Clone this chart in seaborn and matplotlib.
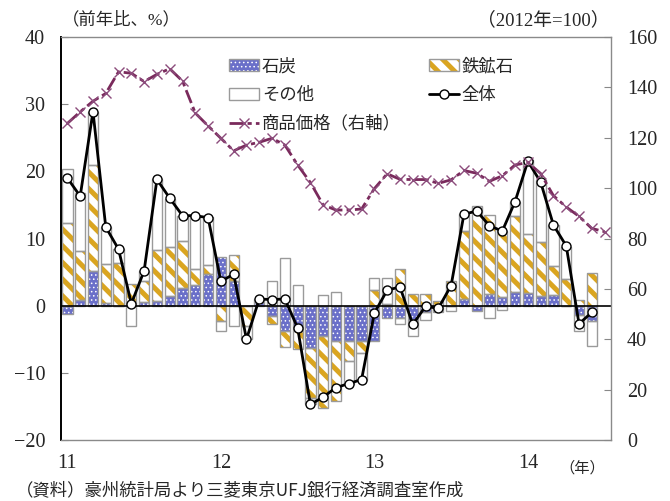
import numpy as np
import pandas as pd
import matplotlib
matplotlib.use("Agg")
import matplotlib.pyplot as plt
from matplotlib.patches import Patch
from matplotlib.lines import Line2D
from matplotlib.legend_handler import HandlerTuple
import seaborn as sns

# Monthly data, Jan 2011 - Jun 2014 (contributions, % y/y)
year_labels = ["11", "12", "13", "14"]
year_ticks = [0, 12, 24, 36]

coal = [-1.3, 0.8, 5.2, 0.4, 0.0, -0.1, 0.55, 0.7, 1.5, 2.6, 3.1, 4.7,
        7.3, 3.6, 0.0, 0.6, -1.6, -3.8, -3.8, -6.3, -4.5, -5.3, -5.3, -5.3,
        -5.3, -1.9, -1.8, -2.2, -1.0, 0.0, 0.0, 1.0, -0.75, 1.8, 1.3, 2.0,
        1.9, 1.5, 1.6, 0.0, -1.45, -2.3]
iron = [12.3, 7.4, 15.7, 5.85, 6.35, 3.3, 3.05, 7.6, 7.2, 7.1, 2.3, 1.4,
        -2.3, 4.0, -3.1, 0.0, -1.2, -2.3, -2.65, -7.4, -10.8, -8.9, -2.9, -1.7,
        2.4, 0.3, 5.4, 1.8, 1.8, 0.65, 3.6, 10.1, 14.5, 11.7, 9.8, 11.3,
        8.8, 8.0, 4.25, 3.9, 0.9, 4.85]
other = [8.0, 8.6, 8.0, 5.45, 2.1, -2.9, 1.6, 10.6, 7.2, 3.7, 8.0, 7.1,
         -1.5, -3.0, -1.9, 0.4, 3.6, 7.1, 3.1, -1.0, 1.6, 2.0, -3.4, -4.0,
         1.7, 3.8, -0.9, -2.3, -1.1, -1.0, -0.8, 2.6, 0.3, -1.8, -0.7, 2.2,
         11.0, 9.25, 6.2, 4.9, -2.25, -3.75]
total = [19.0, 16.3, 28.9, 11.7, 8.4, 0.3, 5.2, 18.8, 16.0, 13.4, 13.4, 13.1,
         3.6, 4.7, -5.0, 1.0, 0.9, 1.0, -3.3, -14.7, -13.6, -12.2, -11.6, -11.0,
         -1.1, 2.3, 2.8, -2.8, -0.1, -0.4, 3.0, 13.6, 14.1, 11.9, 11.1, 15.5,
         21.5, 18.4, 12.0, 8.9, -2.7, -1.0]
# Commodity price index (2012 = 100), Jan 2011 - Jul 2014
price = [125.7, 130.3, 134.5, 137.6, 146.2, 145.6, 142.3, 145.2, 147.4, 142.5, 129.8, 124.7,
         119.8, 114.8, 117.1, 118.2, 119.8, 117.1, 109.2, 102.2, 93.3, 91.3, 91.3, 91.7,
         99.8, 105.7, 103.5, 103.4, 103.4, 101.9, 103.3, 107.0, 105.9, 102.7, 104.9, 109.2,
         110.2, 105.8, 97.0, 92.5, 88.8, 84.0, 82.7]

sns.set_style("white")
plt.rcParams["font.family"] = ["Liberation Serif", "Noto Sans CJK JP"]
plt.rcParams["hatch.linewidth"] = 3.6

COAL = "#6a6fc9"
IRON = "#daa520"
EDGE = "#9a9a9a"
PRICE = "#7a2a5c"
PRICE_MK = "#8c4c7c"
JP = ["Noto Sans CJK JP", "DejaVu Sans"]
MIX = ["Liberation Serif", "Noto Sans CJK JP"]
HATCH_LW = {"coal": 0.6, "iron": 3.6}

fig = plt.figure(figsize=(6.7, 5.01), dpi=100)
ax = fig.add_axes([61 / 670, 1 - 440 / 501, 550 / 670, 403 / 501])
ax2 = ax.twinx()

months = np.arange(len(total))
df = pd.DataFrame({"month": months, "coal": coal, "iron": iron,
                   "other": other, "total": total})

# stacked bars: positives build upward, negatives downward
pos = np.zeros(len(months))
neg = np.zeros(len(months))
layers = [("coal", COAL, "white", "...."),
          ("iron", "white", IRON, "\\\\"),
          ("other", "white", "white", None)]
for name, face, hcol, hatch in layers:
    h = df[name].to_numpy()
    base = np.where(h >= 0, pos, neg)
    n0 = len(ax.patches)
    sns.barplot(x=months, y=h, bottom=base, orient="x", native_scale=True,
                width=0.8, color=face, saturation=1, edgecolor=hcol,
                linewidth=0, hatch=hatch, errorbar=None, ax=ax, zorder=2)
    if name in HATCH_LW:
        for p in ax.patches[n0:]:
            p.set_hatch_linewidth(HATCH_LW[name])
    sns.barplot(x=months, y=h, bottom=base, orient="x", native_scale=True,
                width=0.8, color=EDGE, saturation=1, facecolor="none",
                edgecolor=EDGE, linewidth=1.0, errorbar=None, ax=ax, zorder=2.1)
    pos = pos + np.where(h >= 0, h, 0)
    neg = neg + np.where(h < 0, h, 0)

ax.axhline(0, color="black", lw=1.2, zorder=3)

sns.lineplot(x=months, y=total, ax=ax, color="black", linewidth=2,
             marker="o", markersize=6.5, markerfacecolor="white",
             markeredgecolor="black", markeredgewidth=1.0, zorder=5)

price_months = np.arange(len(price))
sns.lineplot(x=price_months, y=price, ax=ax2, color=PRICE, linewidth=2,
             linestyle=(0, (5, 1.5, 1.5, 1.5)), marker="x", markersize=7,
             markeredgecolor=PRICE_MK, markeredgewidth=1.0, zorder=5)

ax.set_xlim(-0.5, 42.5)
ax.set_ylim(-20, 40)
ax2.set_ylim(0, 160)
ax.set_yticks(np.arange(-20, 41, 10))
ax2.set_yticks(np.arange(0, 161, 20))
ax.set_xticks(year_ticks)
ax.set_xticklabels(year_labels)
ax.set_xlabel("")
ax.set_ylabel("")
ax2.set_ylabel("")

ax.tick_params(axis="y", direction="in", length=5, width=0.8, color="#888888",
               labelsize=14.5, pad=11.5)
ax2.tick_params(axis="y", direction="in", length=5, width=0.8, color="#888888",
                labelsize=14.5, pad=11.5)
ax.tick_params(axis="x", length=0, labelsize=14.5, pad=10)

for sp in ["top", "bottom"]:
    ax.spines[sp].set_color("#8a8a8a")
    ax.spines[sp].set_linewidth(1.0)
ax.spines["right"].set_visible(False)
ax.spines["left"].set_color("black")
ax.spines["left"].set_linewidth(1.4)
ax2.spines["left"].set_visible(False)
ax2.spines["top"].set_visible(False)
ax2.spines["bottom"].set_visible(False)
ax2.spines["right"].set_color("#8a8a8a")
ax2.spines["right"].set_linewidth(1.0)

# legend
coal_key = Patch(facecolor=COAL, edgecolor="white", hatch="....", lw=0)
coal_key.set_hatch_linewidth(HATCH_LW["coal"])
iron_key = Patch(facecolor="white", edgecolor=IRON, hatch="\\\\", lw=0)
iron_key.set_hatch_linewidth(HATCH_LW["iron"])
coal_h = (coal_key, Patch(facecolor="none", edgecolor=EDGE, lw=1))
iron_h = (iron_key, Patch(facecolor="none", edgecolor=EDGE, lw=1))
other_h = Patch(facecolor="white", edgecolor=EDGE, lw=1)
total_h = Line2D([], [], color="black", lw=2, marker="o", ms=6.5,
                 mfc="white", mec="black", mew=1.0)
price_h = Line2D([], [], color=PRICE, lw=2, ls=(0, (5, 1.5, 1.5, 1.5)),
                 marker="x", ms=7, mec=PRICE_MK, mew=1.0)
leg = ax2.legend([coal_h, other_h, price_h, iron_h, total_h],
                 ["石炭", "その他", "商品価格（右軸）", "鉄鉱石", "全体"],
                 ncol=2, loc="upper left", bbox_to_anchor=(0.305, 0.95),
                 frameon=False, borderpad=0, borderaxespad=0,
                 handlelength=1.75, handletextpad=0.15, columnspacing=1.6,
                 labelspacing=0.62, prop={"family": JP, "size": 12.5},
                 handler_map={tuple: HandlerTuple(ndivide=1)})
for p in leg.get_patches():
    if p.get_hatch() == "....":
        p.set_hatch_linewidth(HATCH_LW["coal"])
    elif p.get_hatch() == "\\\\":
        p.set_hatch_linewidth(HATCH_LW["iron"])

fig.text(62 / 670, 1 - 20 / 501, "（前年比、%）", ha="left", va="center",
         fontsize=12.5, family=MIX)
fig.text(610 / 670, 1 - 20 / 501, "（2012年=100）", ha="right", va="center",
         fontsize=13.5, family=MIX)
fig.text(582 / 670, 1 - 468 / 501, "（年）", ha="center", va="center",
         fontsize=11, family=JP)
fig.text(16 / 670, 1 - 490 / 501,
         "（資料）豪州統計局より三菱東京UFJ銀行経済調査室作成",
         ha="left", va="center", fontsize=12.5, family=JP)

fig.savefig("out.png", dpi=100)
